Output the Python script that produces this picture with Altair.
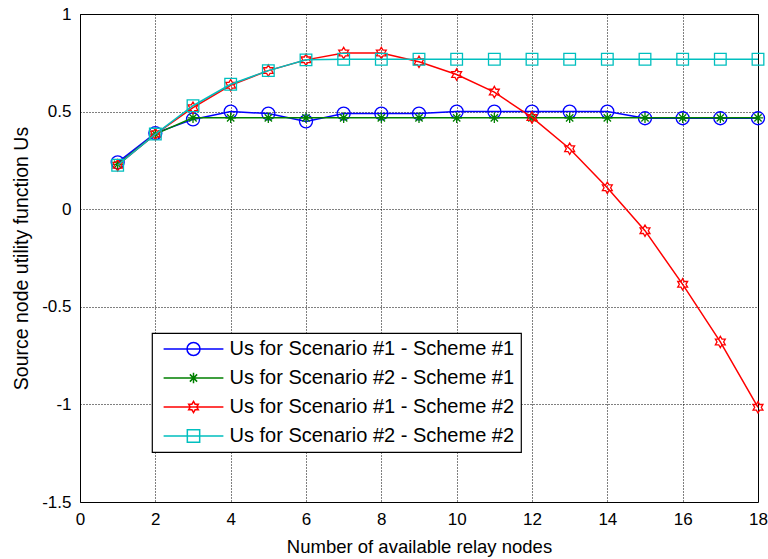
import altair as alt
import pandas as pd

# ---- data ----
relay_nodes = list(range(1, 19))
series_names = [
    "Us for Scenario #1 - Scheme #1",
    "Us for Scenario #2 - Scheme #1",
    "Us for Scenario #1 - Scheme #2",
    "Us for Scenario #2 - Scheme #2",
]
us_s1_sch1 = [0.24, 0.39, 0.46, 0.50, 0.49, 0.45, 0.49, 0.49, 0.49, 0.50,
              0.50, 0.50, 0.50, 0.50, 0.466, 0.466, 0.466, 0.466]
us_s2_sch1 = [0.23, 0.385, 0.468, 0.468, 0.468, 0.468, 0.468, 0.468, 0.468, 0.468,
              0.468, 0.468, 0.468, 0.468, 0.468, 0.468, 0.468, 0.468]
us_s1_sch2 = [0.225, 0.385, 0.52, 0.635, 0.71, 0.765, 0.80, 0.80, 0.755, 0.69,
              0.60, 0.47, 0.31, 0.11, -0.11, -0.385, -0.68, -1.015]
us_s2_sch2 = [0.225, 0.385, 0.53, 0.64, 0.71, 0.765, 0.768, 0.768, 0.768, 0.768,
              0.768, 0.768, 0.768, 0.768, 0.768, 0.768, 0.768, 0.768]
x_ticks = [0, 2, 4, 6, 8, 10, 12, 14, 16, 18]
y_ticks = [-1.5, -1, -0.5, 0, 0.5, 1]

colors = ["#0000FF", "#008000", "#FF0000", "#00BFBF"]

# marker shapes (unit paths)
circle = "M-1,0A1,1 0 1,1 1,0A1,1 0 1,1 -1,0Z"
asterisk = "M0,-1L0,1M-1,0L1,0M-0.7,-0.7L0.7,0.7M-0.7,0.7L0.7,-0.7"
hexagram = ("M0,-1L0.2887,-0.5L0.866,-0.5L0.577,0L0.866,0.5L0.2887,0.5L0,1"
            "L-0.2887,0.5L-0.866,0.5L-0.577,0L-0.866,-0.5L-0.2887,-0.5Z")
square = "M-0.95,-0.95H0.95V0.95H-0.95Z"
marker_paths = [circle, asterisk, hexagram, square]
marker_sizes = [169, 110, 130, 150]

seg = "M-4.6,0H4.6"
legend_paths = [
    seg + circle,
    seg + "M0,-0.8L0,0.8M-0.56,-0.56L0.56,0.56M-0.56,0.56L0.56,-0.56",
    seg + ("M0,-0.85L0.245,-0.425L0.736,-0.425L0.49,0L0.736,0.425L0.245,0.425L0,0.85"
           "L-0.245,0.425L-0.736,0.425L-0.49,0L-0.736,-0.425L-0.245,-0.425Z"),
    seg + square,
]

all_vals = [us_s1_sch1, us_s2_sch1, us_s1_sch2, us_s2_sch2]
rows = []
for name, vals in zip(series_names, all_vals):
    for xv, yv in zip(relay_nodes, vals):
        rows.append({"x": xv, "y": yv, "series": name})
df = pd.DataFrame(rows)

FONT = "Liberation Sans"

x_enc = alt.X("x:Q",
              scale=alt.Scale(domain=[0, 18], nice=False, zero=False),
              axis=alt.Axis(values=x_ticks, title="Number of available relay nodes",
                            labelExpr="'' + datum.value", labelFlush=False))
y_enc = alt.Y("y:Q",
              scale=alt.Scale(domain=[-1.5, 1], nice=False, zero=False),
              axis=alt.Axis(values=y_ticks, title="Source node utility function Us",
                            labelExpr="'' + datum.value", labelFlush=False,
                            titleFontSize=19.5))

base = alt.Chart(df)
layers = []
for name, col, path, sz in zip(series_names, colors, marker_paths, marker_sizes):
    sub = base.transform_filter(alt.datum.series == name)
    layers.append(sub.mark_line(color=col, strokeWidth=1.5).encode(x=x_enc, y=y_enc))
    layers.append(sub.mark_point(shape=path, size=sz, color=col, filled=False,
                                 strokeWidth=1.3, opacity=1).encode(x=x_enc, y=y_enc))

legend_layer = base.mark_point(filled=False, opacity=0).encode(
    x=x_enc, y=y_enc,
    color=alt.Color("series:N", sort=series_names,
                    scale=alt.Scale(domain=series_names, range=colors),
                    legend=alt.Legend(title=None, symbolOpacity=1)),
    shape=alt.Shape("series:N", sort=series_names,
                    scale=alt.Scale(domain=series_names, range=legend_paths),
                    legend=alt.Legend(title=None, symbolOpacity=1)),
)
layers.append(legend_layer)

chart = alt.layer(*layers).properties(
    width=678, height=488,
    padding={"left": 80, "top": 14, "right": 10, "bottom": 57},
    autosize=alt.AutoSizeParams(type="none"),
    background="white",
).configure_view(
    stroke="black", strokeWidth=1
).configure_axis(
    grid=True, gridColor="black", gridDash=[1, 2], gridOpacity=1, gridWidth=1,
    domain=False, ticks=False, tickSize=0,
    labelFont=FONT, labelFontSize=17, labelColor="black",
    titleFont=FONT, titleFontSize=18.5, titleColor="black", titleFontWeight="normal",
).configure_axisX(
    labelPadding=9, titlePadding=10,
).configure_axisY(
    labelPadding=9, titlePadding=10,
).configure_legend(
    orient="none", legendX=72, legendY=319,
    padding=6, fillColor="white", strokeColor="black", strokeWidth=1.2,
    cornerRadius=0,
    labelFont=FONT, labelFontSize=20, labelColor="black", labelLimit=400,
    symbolSize=169, symbolStrokeWidth=1.5, symbolOffset=25.5, labelOffset=26,
    rowPadding=9, symbolType="circle",
)

chart.save("out.html", embed_options={"renderer": "svg", "actions": False})
